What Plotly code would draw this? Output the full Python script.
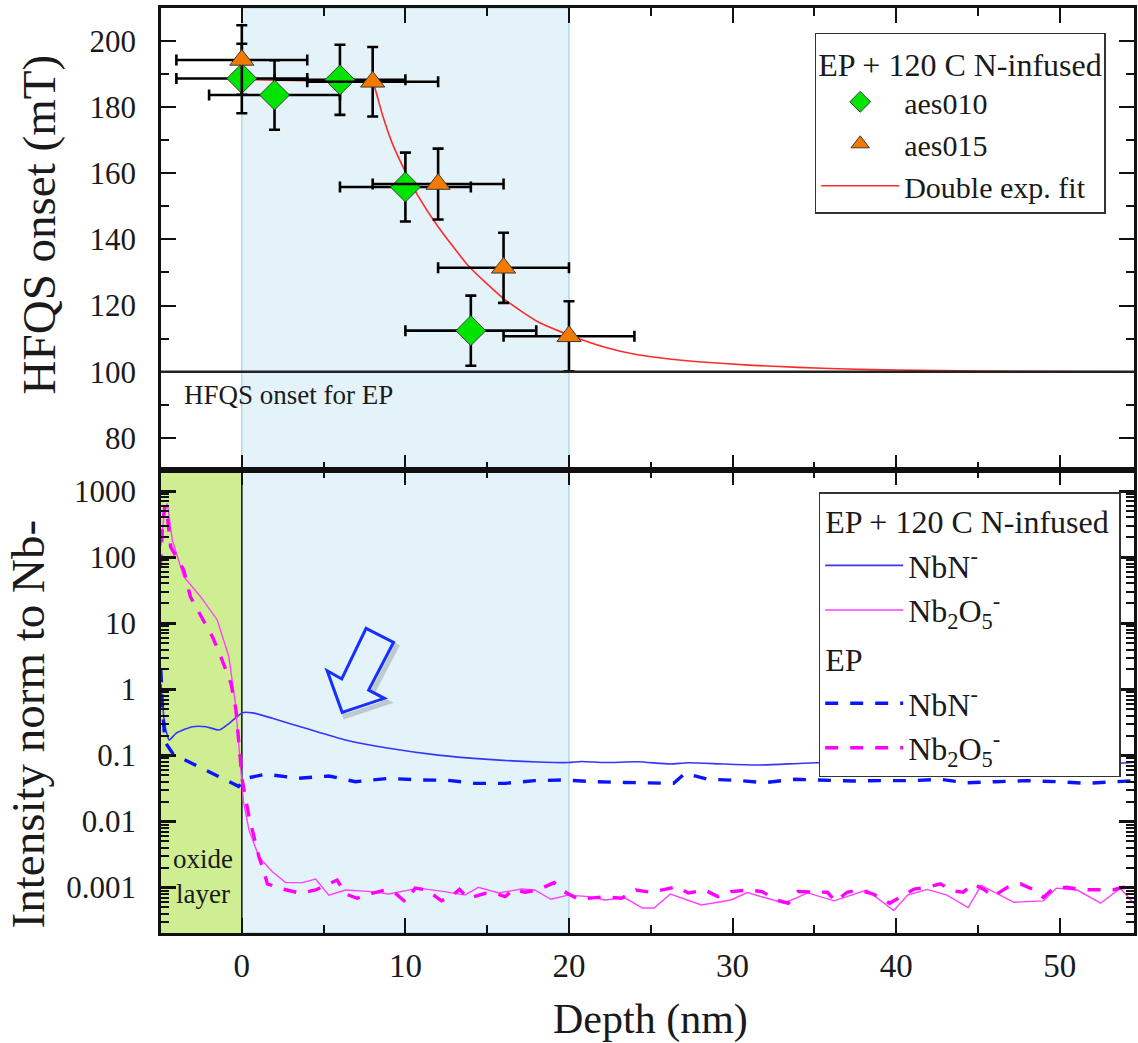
import plotly.graph_objects as go

# ---------------- data: top panel (HFQS onset) ----------------
depth_aes010 = [0, 2, 6, 10, 14]
hfqs_aes010 = [188.6, 183.6, 188.2, 155.8, 112.4]
yerr_aes010 = [10.5, 10.5, 10.6, 10.4, 10.6]
xerr_aes010 = [4, 4, 4, 4, 4]

depth_aes015 = [0, 8, 12, 16, 20]
hfqs_aes015 = [194.2, 187.6, 156.7, 131.4, 110.7]
yerr_aes015 = [10.5, 10.5, 10.7, 10.6, 10.6]
xerr_aes015 = [4, 4, 4, 4, 4]

fit_depth = [0, 2, 4, 6, 8, 8.1, 8.6, 9.2, 10.0, 10.8, 12.0, 13.9, 16.1, 18.1, 20.0,
             22.2, 24.2, 26.0, 27.9, 31.0, 34.0, 37.0, 40.0, 45.0, 54.6]
fit_hfqs = [188.3, 188.1, 187.9, 187.6, 187.3, 186.3, 177.6, 169.0, 160.4, 152.9, 143.8,
            131.7, 121.7, 115.1, 111.1, 107.4, 105.1, 103.9, 103.0, 102.0, 101.3, 100.8,
            100.5, 100.2, 100.0]

ep_onset = 100

# ---------------- data: bottom panel (ToF-SIMS intensity) ----------------
nbn_inf_depth = [-4.94, -4.75, -4.53, -4.43, -4.02, -3.01, -2.19, -1.38, -0.77, 0.04, 0.65,
                 1.87, 3.9, 6.34, 8.98, 12.0, 15.07, 18.1, 19.96, 20.76, 22.2, 24.2, 26.2,
                 27.26, 29.5, 31.7, 35.2, 40.0, 45.0, 50.0, 53.5, 54.6]
nbn_inf_int = [1.2, 0.35, 0.19, 0.171, 0.216, 0.272, 0.272, 0.242, 0.306, 0.443, 0.44,
               0.364, 0.257, 0.171, 0.128, 0.101, 0.087, 0.0795, 0.078, 0.081, 0.078, 0.080,
               0.074, 0.0775, 0.074, 0.0716, 0.0775, 0.076, 0.076, 0.076, 0.076, 0.079]

nb2o5_inf_depth = [-4.94, -4.75, -4.55, -4.25, -3.55, -2.52, -1.5, -0.79, -0.39, -0.15, 0.1,
                   0.44, 1.05, 1.87, 2.68, 3.7, 4.51, 5.32, 6.34, 7.96, 8.98, 10.8, 12.4,
                   13.65, 14.46, 15.7, 17.1, 17.9, 18.9, 19.95, 21.2, 22.2, 23.4, 24.5, 25.2,
                   26.2, 27.3, 28.1, 29.9, 30.9, 33.15, 34.6, 36.2, 38.2, 39.85, 40.7, 41.9,
                   43.1, 44.4, 45.2, 47.2, 49.0, 49.8, 51.1, 52.5, 53.7, 54.6]
nb2o5_inf_int = [150, 450, 650, 181, 50.6, 25.2, 11.2, 3.1, 0.61, 0.1, 0.02,
                 0.0074, 0.0029, 0.00174, 0.00119, 0.00119, 0.00135, 0.00077, 0.00092,
                 0.00087, 0.0008, 0.00098, 0.00087, 0.00077, 0.00101, 0.00083, 0.00095,
                 0.00092, 0.000665, 0.00077, 0.00073, 0.00065, 0.0007, 0.00049, 0.00049,
                 0.0008, 0.00065, 0.000545, 0.00065, 0.00084, 0.00058, 0.00083, 0.00063,
                 0.00092, 0.00045, 0.00077, 0.00094, 0.00077, 0.0005, 0.00108, 0.0006,
                 0.00063, 0.00098, 0.00091, 0.00058, 0.00098, 0.00055]

nbn_ep_depth = [-4.95, -4.86, -4.7, -4.2, -0.2, 0.25, 1.46, 3.49, 5.32, 6.95, 8.98, 10.8,
                12.6, 14.26, 16.1, 17.9, 19.7, 21.6, 23.4, 25.4, 26.4, 27.1, 28.5, 30.3,
                31.9, 33.8, 35.8, 37.4, 39.2, 40.9, 42.7, 44.3, 46.1, 48.0, 49.8, 51.6,
                53.5, 54.6]
nbn_ep_int = [2.0, 0.6, 0.16, 0.105, 0.034, 0.045, 0.052, 0.045, 0.0488, 0.040, 0.045,
              0.0425, 0.042, 0.0378, 0.0378, 0.0415, 0.0425, 0.040, 0.039, 0.0378, 0.0378,
              0.0536, 0.0435, 0.042, 0.0386, 0.0435, 0.0425, 0.041, 0.0415, 0.0415, 0.0435,
              0.0386, 0.040, 0.0415, 0.040, 0.0378, 0.040, 0.0415]

nb2o5_ep_depth = [-4.97, -4.85, -4.7, -4.55, -4.35, -3.55, -3.14, -1.79, -1.28, -0.66, -0.36,
                  -0.12, 0.02, 0.44, 1.05, 1.36, 1.56, 2.5, 3.6, 4.51, 5.32, 5.83, 6.34,
                  7.05, 7.96, 8.77, 9.38, 9.99, 10.6, 11.3, 12.2, 12.8, 13.3, 13.85, 14.9,
                  15.6, 16.1, 16.6, 17.3, 18.1, 19.1, 19.7, 20.6, 21.4, 22.2, 23.2, 24.1,
                  25.0, 25.9, 26.6, 27.3, 28.3, 29.1, 29.9, 31.0, 31.8, 32.7, 33.4, 34.0,
                  34.8, 35.8, 36.3, 37.0, 37.7, 38.6, 39.6, 40.3, 41.1, 41.9, 42.7, 43.5,
                  44.1, 44.7, 45.4, 45.9, 46.8, 47.6, 48.4, 49.0, 49.6, 50.4, 51.4, 52.3,
                  53.3, 53.9, 54.6]
nb2o5_ep_int = [70, 300, 600, 407, 143, 64, 25, 6.2, 3.1, 1.23, 0.49, 0.108, 0.043, 0.0118,
                0.0029, 0.00174, 0.00114, 0.00095, 0.00082, 0.00092, 0.00116, 0.0013, 0.0008,
                0.00069, 0.00082, 0.00092, 0.00082, 0.00061, 0.00098, 0.00092, 0.00063,
                0.00073, 0.00094, 0.00069, 0.00082, 0.0008, 0.00073, 0.00094, 0.00085,
                0.00092, 0.00119, 0.00087, 0.000665, 0.00069, 0.00073, 0.00069, 0.00092,
                0.00085, 0.00094, 0.00103, 0.00083, 0.00092, 0.00073, 0.00087, 0.00092,
                0.00087, 0.00065, 0.00058, 0.00087, 0.00087, 0.00085, 0.00062, 0.00085,
                0.00092, 0.0008, 0.00058, 0.00072, 0.00095, 0.00101, 0.00114, 0.00089,
                0.00085, 0.00114, 0.00093, 0.00073, 0.00101, 0.00114, 0.00093, 0.00071,
                0.00097, 0.00101, 0.00093, 0.00093, 0.00093, 0.00101, 0.00095]

# regions
oxide_region = [-5, 0]
infusion_region = [0, 20]

x_tick_vals = [0, 10, 20, 30, 40, 50]
top_tick_vals = [80, 100, 120, 140, 160, 180, 200]

# ---------------- style ----------------
FONT = "Liberation Serif"
TXT = "#1a1a1a"
TICK_FONT = dict(family=FONT, size=31, color=TXT)
XTICK_FONT = dict(family=FONT, size=33, color=TXT)
LEG_FONT = dict(family=FONT, size=32, color=TXT)
LEG1_FONT = dict(family=FONT, size=30, color=TXT)

fig = go.Figure()

# top panel
fig.add_trace(go.Scatter(
    x=fit_depth, y=fit_hfqs, mode="lines", name="Double exp. fit",
    line=dict(color="#ff2a2a", width=1.6, shape="spline", smoothing=0.5),
    xaxis="x", yaxis="y", legend="legend", legendrank=3))

err_style = dict(color="black", thickness=2.6, width=5.5)
fig.add_trace(go.Scatter(
    x=depth_aes010, y=hfqs_aes010, mode="markers", name="aes010",
    marker=dict(symbol="diamond", size=23, color="#00e400", line=dict(color="#3a3a3a", width=1)),
    error_x=dict(type="data", array=xerr_aes010, **err_style),
    error_y=dict(type="data", array=yerr_aes010, **err_style),
    xaxis="x", yaxis="y", legend="legend", legendrank=1))
fig.add_trace(go.Scatter(
    x=depth_aes015, y=hfqs_aes015, mode="markers", name="aes015",
    marker=dict(symbol="triangle-up", size=21, color="#f27a00", line=dict(color="#3a3a3a", width=1)),
    error_x=dict(type="data", array=xerr_aes015, **err_style),
    error_y=dict(type="data", array=yerr_aes015, **err_style),
    xaxis="x", yaxis="y", legend="legend", legendrank=2))

# bottom panel
fig.add_trace(go.Scatter(
    x=nbn_inf_depth, y=nbn_inf_int, mode="lines", name="NbN<sup>-</sup>",
    line=dict(color="#3535ff", width=1.6, shape="spline", smoothing=0.6),
    xaxis="x2", yaxis="y2", legend="legend2",
    legendgroup="inf", legendgrouptitle=dict(text="EP + 120 C N-infused", font=LEG_FONT)))
fig.add_trace(go.Scatter(
    x=nb2o5_inf_depth, y=nb2o5_inf_int, mode="lines", name="Nb<sub>2</sub>O<sub>5</sub><sup>-</sup>",
    line=dict(color="#ff40ff", width=1.4),
    xaxis="x2", yaxis="y2", legend="legend2", legendgroup="inf"))
fig.add_trace(go.Scatter(
    x=nbn_ep_depth, y=nbn_ep_int, mode="lines", name="NbN<sup>-</sup>",
    line=dict(color="#0a14ff", width=3.4, dash="13px,12px"),
    xaxis="x2", yaxis="y2", legend="legend2",
    legendgroup="ep", legendgrouptitle=dict(text="EP", font=LEG_FONT)))
fig.add_trace(go.Scatter(
    x=nb2o5_ep_depth, y=nb2o5_ep_int, mode="lines", name="Nb<sub>2</sub>O<sub>5</sub><sup>-</sup>",
    line=dict(color="#ff00ff", width=3.4, dash="13px,12px"),
    xaxis="x2", yaxis="y2", legend="legend2", legendgroup="ep"))

# ---------------- shapes ----------------
shapes = [
    dict(type="rect", xref="x", yref="paper", x0=infusion_region[0], x1=infusion_region[1],
         y0=0, y1=1, fillcolor="#e3f3f9", line=dict(color="#9ed2ea", width=1.2), layer="below"),
    dict(type="rect", xref="x2", yref="y2 domain", x0=oxide_region[0], x1=oxide_region[1],
         y0=0, y1=1, fillcolor="#cfee92", line=dict(width=0), layer="below"),
    dict(type="line", xref="x2", yref="y2 domain", x0=oxide_region[1], x1=oxide_region[1],
         y0=0, y1=1, line=dict(color="#222", width=1.6), layer="below"),
    dict(type="line", xref="x domain", yref="y", x0=0, x1=1, y0=ep_onset, y1=ep_onset,
         line=dict(color="#222", width=2.6), layer="above"),
]

# block arrow (paper coordinates, decoration)
arrow_px = [(366.7, 628.3), (394.3, 642.3), (369.3, 690.0), (385.0, 698.3),
            (342.7, 712.3), (327.7, 670.7), (342.3, 679.0)]
PL, PR, PT, PB = 161, 1137, 8, 933


def to_paper(px, py, dx=0.0, dy=0.0):
    return (px + dx - PL) / (PR - PL), (PB - (py + dy)) / (PB - PT)


def arrow_path(dx=0.0, dy=0.0):
    pts = [to_paper(px, py, dx, dy) for px, py in arrow_px]
    return "M " + " L ".join(f"{a:.5f},{b:.5f}" for a, b in pts) + " Z"


shapes.append(dict(type="path", xref="paper", yref="paper", path=arrow_path(3, 4),
                   fillcolor="rgba(0,0,0,0)", line=dict(color="rgba(60,60,60,0.22)", width=5)))
shapes.append(dict(type="path", xref="paper", yref="paper", path=arrow_path(),
                   fillcolor="rgba(227,243,249,1)", line=dict(color="#1530ff", width=3)))

title_top_x, title_top_y = to_paper(39, 225)
title_bot_x, title_bot_y = to_paper(28, 724)
title_x_x, title_x_y = to_paper(652, 1020)

annotations = [
    dict(text="HFQS onset for EP", x=-3.63, y=93, xref="x", yref="y", xanchor="left",
         yanchor="middle", showarrow=False, font=dict(family=FONT, size=27, color=TXT)),
    dict(text="oxide<br>layer", x=-2.4, y=-2.83, xref="x2", yref="y2", xanchor="center",
         yanchor="middle", showarrow=False, align="center",
         font=dict(family=FONT, size=27, color=TXT)),
    dict(text="HFQS onset (mT)", x=title_top_x, y=title_top_y, xref="paper", yref="paper",
         xanchor="center", yanchor="middle", textangle=-90, showarrow=False,
         font=dict(family=FONT, size=47, color=TXT)),
    dict(text="Intensity norm to Nb-", x=title_bot_x, y=title_bot_y, xref="paper", yref="paper",
         xanchor="center", yanchor="middle", textangle=-90, showarrow=False,
         font=dict(family=FONT, size=47, color=TXT)),
    dict(text="Depth (nm)", x=title_x_x, y=title_x_y, xref="paper", yref="paper",
         xanchor="center", yanchor="middle", showarrow=False,
         font=dict(family=FONT, size=42, color=TXT)),
]

# ---------------- axes ----------------
x_range = [-4.94, 54.54]
split = (PB - 470) / (PB - PT)

common_x = dict(range=x_range, showline=True, linecolor="#111", linewidth=2.6, mirror="allticks",
                ticks="inside", ticklen=15, tickwidth=2.4, tickcolor="#111",
                tickmode="array", tickvals=x_tick_vals, showgrid=False, zeroline=False,
                minor=dict(dtick=5, tick0=0, ticks="inside", ticklen=8, tickwidth=2.2,
                           tickcolor="#111", showgrid=False))

fig.update_layout(
    width=1138, height=1043,
    margin=dict(l=PL, r=1138 - PR, t=PT, b=1043 - PB),
    paper_bgcolor="white", plot_bgcolor="white",
    font=dict(family=FONT, color=TXT, size=31),
    xaxis=dict(**common_x, anchor="y", domain=[0, 1], showticklabels=False),
    xaxis2=dict(**common_x, anchor="y2", domain=[0, 1], matches="x", showticklabels=True,
                tickfont=XTICK_FONT, ticklabelstandoff=2),
    yaxis=dict(domain=[split, 1], range=[70.3, 209.9], anchor="x",
               showline=True, linecolor="#111", linewidth=2.6, mirror="allticks",
               ticks="inside", ticklen=15, tickwidth=2.4, tickcolor="#111",
               tickmode="array", tickvals=top_tick_vals, tickfont=TICK_FONT,
               ticklabelstandoff=16, showgrid=False, zeroline=False,
               minor=dict(dtick=10, tick0=0, ticks="inside", ticklen=8, tickwidth=2.2,
                          tickcolor="#111", showgrid=False)),
    yaxis2=dict(domain=[0, split], type="log", range=[-3.687, 3.318], anchor="x2",
                showline=True, linecolor="#111", linewidth=2.6, mirror="allticks",
                ticks="inside", ticklen=15, tickwidth=3, tickcolor="#111",
                tickmode="linear", tick0=0, dtick=1, exponentformat="none",
                tickfont=TICK_FONT, ticklabelstandoff=16, showgrid=False, zeroline=False,
                minor=dict(ticks="inside", ticklen=8, tickwidth=2, tickcolor="#111", showgrid=False)),
    legend=dict(x=(816.7 - PL) / (PR - PL), y=(PB - 32.7) / (PB - PT), xanchor="left", yanchor="top",
                bgcolor="white", bordercolor="#333", borderwidth=1.5,
                font=LEG1_FONT,
                title=dict(text="EP + 120 C N-infused", font=LEG_FONT),
                traceorder="normal", itemwidth=78),
    legend2=dict(x=(820.7 - PL) / (PR - PL), y=(PB - 492) / (PB - PT), xanchor="left", yanchor="top",
                 bgcolor="white", bordercolor="#333", borderwidth=1.5,
                 font=LEG_FONT,
                 traceorder="grouped", tracegroupgap=4, itemwidth=78),
    shapes=shapes,
    annotations=annotations,
    showlegend=True,
)

fig.write_html("out.html")
